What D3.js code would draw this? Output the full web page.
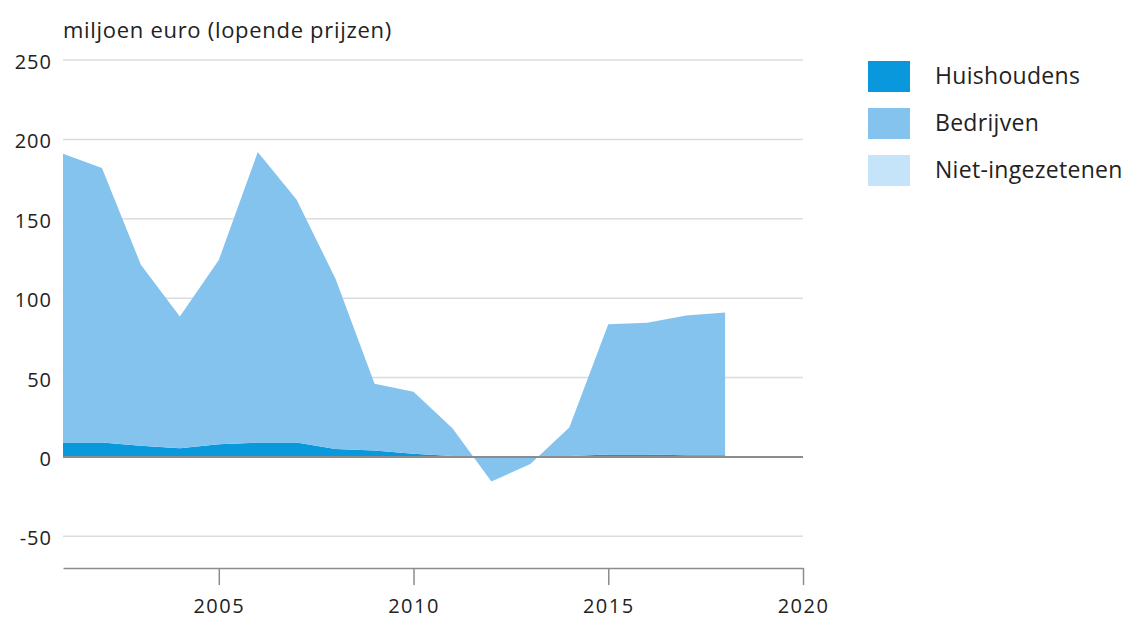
<!DOCTYPE html>
<html lang="nl">
<head>
<meta charset="utf-8">
<title>miljoen euro (lopende prijzen)</title>
<script src="https://d3js.org/d3.v7.min.js"></script>
<style>
  body { margin: 0; background: #fff; }
  svg text { font-family: "Open Sans", sans-serif; fill: #222; }
</style>
</head>
<body>
<svg id="chart" width="1128" height="624"></svg>
<script>
// data
var years = [2001, 2002, 2003, 2004, 2005, 2006, 2007, 2008, 2009,
             2010, 2011, 2012, 2013, 2014, 2015, 2016, 2017, 2018];
var huishoudens = [9, 9, 7, 5.5, 8, 9, 9, 5, 4, 2, 0.5, 0, 0, 0.5, 1.5, 1.5, 1, 1];
var bedrijven = [182, 173, 114, 83, 116, 183, 153, 107, 42, 39, 17.5, -15.5, -4.5, 18, 82, 83, 88, 90];
var nietIngezetenen = [0, 0, 0, 0, 0, 0, 0, 0, 0, 0, 0, 0, 0, 0, 0, 0, 0, 0];
var seriesNames = ["Huishoudens", "Bedrijven", "Niet-ingezetenen"];
var seriesColors = ["#0a98dc", "#84c3ee", "#c6e4f9"];
var yTicks = [-50, 0, 50, 100, 150, 200, 250];
var xTicks = [2005, 2010, 2015, 2020];

var svg = d3.select("#chart");

var x = d3.scaleLinear().domain([2001, 2020]).range([63, 803]);
var y = d3.scaleLinear().domain([-70, 250]).range([568, 60]);

var rows = years.map(function(yr, i) {
  return { year: yr, "Huishoudens": huishoudens[i], "Bedrijven": bedrijven[i], "Niet-ingezetenen": nietIngezetenen[i] };
});

var stack = d3.stack().keys(seriesNames);
var layers = stack(rows);

// gridlines
svg.append("g")
  .selectAll("line")
  .data(yTicks.filter(function(d) { return d !== 0; }))
  .join("line")
  .attr("x1", x(2001)).attr("x2", x(2020))
  .attr("y1", function(d) { return y(d); })
  .attr("y2", function(d) { return y(d); })
  .attr("stroke", "#dcdcdc")
  .attr("stroke-width", 1.5);

// areas
var area = d3.area()
  .x(function(d) { return x(d.data.year); })
  .y0(function(d) { return y(d[0]); })
  .y1(function(d) { return y(d[1]); });

svg.append("g")
  .selectAll("path")
  .data(layers)
  .join("path")
  .attr("d", area)
  .attr("fill", function(d, i) { return seriesColors[i]; });

// zero line
svg.append("line")
  .attr("x1", x(2001)).attr("x2", x(2020))
  .attr("y1", y(0)).attr("y2", y(0))
  .attr("stroke", "#8c8c8c")
  .attr("stroke-width", 2);

// y axis labels
svg.append("g")
  .selectAll("text")
  .data(yTicks)
  .join("text")
  .attr("x", 52)
  .attr("y", function(d) { return y(d) + 2; })
  .attr("dy", "0.35em")
  .attr("text-anchor", "end")
  .style("font-size", "20px")
  .style("letter-spacing", "1px")
  .text(function(d) { return d; });

// x axis
var xAxis = d3.axisBottom(x)
  .tickValues(xTicks)
  .tickFormat(d3.format("d"))
  .tickSize(17)
  .tickSizeOuter(0)
  .tickPadding(14);

var gx = svg.append("g")
  .attr("transform", "translate(0," + y(-70) + ")")
  .call(xAxis);
gx.select(".domain").attr("stroke", "#8c8c8c").attr("stroke-width", 1.5);
gx.selectAll(".tick line").attr("stroke", "#8c8c8c").attr("stroke-width", 1.5);
gx.selectAll(".tick text")
  .style("font-size", "20px")
  .style("letter-spacing", "1.5px")
  .attr("fill", "#222");

// title
svg.append("text")
  .attr("x", 63)
  .attr("y", 38)
  .style("font-size", "22px")
  .style("letter-spacing", "0.7px")
  .text("miljoen euro (lopende prijzen)");

// legend
var legend = svg.append("g")
  .selectAll("g")
  .data(seriesNames)
  .join("g")
  .attr("transform", function(d, i) { return "translate(868," + (61 + i * 47) + ")"; });

legend.append("rect")
  .attr("width", 42)
  .attr("height", 31)
  .attr("fill", function(d, i) { return seriesColors[i]; });

legend.append("text")
  .attr("x", 67)
  .attr("y", 15)
  .attr("dy", "0.35em")
  .style("font-size", "23px")
  .style("letter-spacing", "0.3px")
  .text(function(d) { return d; });
</script>
</body>
</html>
